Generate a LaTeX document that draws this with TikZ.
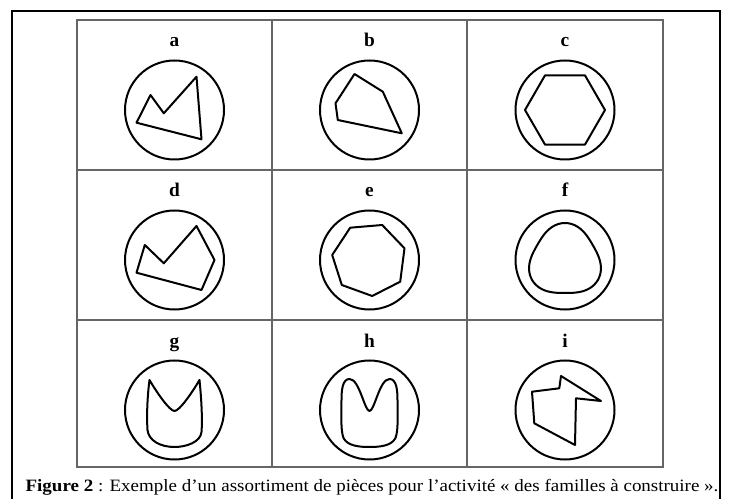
\documentclass[tikz,border=0pt]{standalone}
\usepackage{fontspec}
\setmainfont{Liberation Serif}
\begin{document}
\begin{tikzpicture}[x=0.75pt,y=-0.75pt,
  piece/.style={line width=1.5pt, line join=round},
  disc/.style={line width=1.5pt},
  gridline/.style={line width=0.9pt, draw=black!60},
  lab/.style={font=\bfseries\fontsize{14.5}{16}\selectfont, anchor=base},
  captext/.style={font=\fontsize{13}{15}\selectfont, anchor=base, xscale=1.095}]
\useasboundingbox (0,0) rectangle (729,499);
\fill[white] (0,0) rectangle (729,499);

% outer frame (open at the bottom of the page)
\draw[line width=1.5pt] (12,499) -- (12,11) -- (720,11) -- (720,499);

% table grid
\draw[gridline] (77,20) rectangle (663,467);
\foreach \xx in {272,467} \draw[gridline] (\xx,20) -- (\xx,467);
\foreach \yy in {170,320} \draw[gridline] (77,\yy) -- (663,\yy);

% cell labels
\node[lab] (la) at (174.5,47) {a};
\node[lab] (lb) at (369.5,47) {b};
\node[lab] (lc) at (565,47) {c};
\node[lab] (ld) at (174.5,197) {d};
\node[lab] (le) at (369.5,197) {e};
\node[lab] (lf) at (565,197) {f};
\node[lab] (lg) at (174.5,347) {g};
\node[lab] (lh) at (369.5,347) {h};
\node[lab] (li) at (565,347) {i};

% discs
\foreach \cx in {174.5,369.5,565}
  \foreach \cy in {110,260,410}
    \draw[disc] (\cx,\cy) circle[radius=49.5];

% a
\begin{scope}[shift={(174.5,110)}]
  \draw[piece] (-38,12.7) -- (-24,-15) -- (-10.7,3.3) -- (22,-33.3) -- (27,29.3) -- cycle;
\end{scope}
% b
\begin{scope}[shift={(369.5,110)}]
  \draw[piece] (-15,-36) -- (13.3,-18.3) -- (32.3,23.3) -- (-31.7,10) -- (-34,-6.7) -- cycle;
\end{scope}
% c : regular hexagon
\begin{scope}[shift={(565,110)}]
  \draw[piece] (40,0) -- (20,34.6) -- (-20,34.6) -- (-40,0) -- (-20,-34.6) -- (20,-34.6) -- cycle;
\end{scope}
% d
\begin{scope}[shift={(174.5,260)}]
  \draw[piece] (-38,12.7) -- (-29.7,-15) -- (-10.7,3.3) -- (22,-34) -- (40,0) -- (27,30) -- cycle;
\end{scope}
% e : irregular heptagon
\begin{scope}[shift={(369.5,260)}]
  \draw[piece] (-19.3,-32.3) -- (12.7,-35) -- (35,-11.7) -- (30.7,21.7) -- (2.7,36) -- (-27.7,25) -- (-37.3,-5) -- cycle;
\end{scope}
% f : rounded triangle
\begin{scope}[shift={(565,261)}]
  \draw[piece] plot[variable=\t, domain=0:355, samples=72, smooth cycle]
    ({(35+3*cos(3*(\t-90)))*cos(\t)}, {-(35+3*cos(3*(\t-90)))*sin(\t)});
\end{scope}
% g : cup with pointed ears
\begin{scope}[shift={(174.5,410)}]
  \draw[piece] (-25,-30) .. controls (-18,-18) and (-5,1) .. (0,1)
    .. controls (5,1) and (18,-18) .. (25,-30)
    .. controls (27,-10) and (28,10) .. (27,22)
    .. controls (26,32) and (12,37) .. (0,37)
    .. controls (-15,37) and (-26,30) .. (-27,20)
    .. controls (-28,5) and (-27,-15) .. (-25,-30) -- cycle;
\end{scope}
% h : cup with rounded ears
\begin{scope}[shift={(369.5,410)}]
  \draw[piece] (0,1) .. controls (-5,1) and (-10,-31) .. (-20,-31)
    .. controls (-27,-31) and (-28,-20) .. (-28,-10)
    .. controls (-28,5) and (-29,20) .. (-26,28)
    .. controls (-22,36) and (-10,37) .. (0,37)
    .. controls (10,37) and (22,36) .. (26,28)
    .. controls (29,20) and (28,5) .. (28,-10)
    .. controls (28,-20) and (27,-31) .. (20,-31)
    .. controls (10,-31) and (5,1) .. (0,1) -- cycle;
\end{scope}
% i
\begin{scope}[shift={(565,410)}]
  \draw[piece] (-4,-34) -- (36,-9) -- (11,-11.7) -- (10,35) -- (-30.7,13.3) -- (-33,-18.3) -- (-5.7,-21.7) -- cycle;
\end{scope}

% caption
\node[captext] (cap) at (372,491) {\textbf{Figure 2} : Exemple d’un assortiment de pièces pour l’activité «~des familles à construire~».};
\end{tikzpicture}
\end{document}
